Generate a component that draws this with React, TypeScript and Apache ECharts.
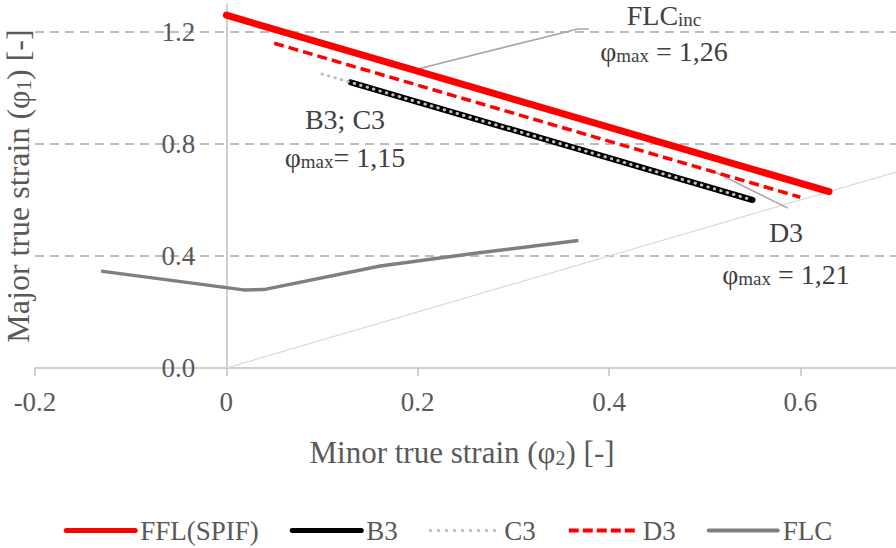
import React, { useEffect, useRef } from "react";
import * as echarts from "echarts";

const FONT = "'Liberation Serif', 'Times New Roman', serif";

const legendNames = ["FFL(SPIF)", "B3", "C3", "D3", "FLC"];
const fflData = [[0, 1.26], [0.63, 0.63]];
const b3Data = [[0.13, 1.02], [0.55, 0.6]];
const c3Data = [[0.1, 1.05], [0.55, 0.6]];
const d3Data = [[0.05, 1.16], [0.6, 0.61]];
const flcX = [-0.131, 0.018, 0.039, 0.161, 0.26, 0.368];
const flcY = [0.346, 0.279, 0.28, 0.364, 0.41, 0.455];
const diagData = [[0, 0], [0.7, 0.7]];
const flcIncLeader = [[0.2, 1.068], [0.3675, 1.211], [0.379, 1.211]];
const d3Leader = [[0.504, 0.711], [0.587, 0.571]];
const xTicks = [-0.2, 0, 0.2, 0.4, 0.6];
const yTicks = [0, 0.4, 0.8, 1.2];
const X_MIN = -0.2;
const X_MAX = 0.7;

const annColor = "#404040";
const labelColor = "#595959";

const GRID_LEFT = 35;
const GRID_WIDTH = 896 - GRID_LEFT;

function richText(text: string, x: number, y: number, size: number, subSize: number, color: string, rotation = 0) {
  return {
    type: "text",
    x,
    y,
    rotation,
    style: {
      text,
      align: "center",
      verticalAlign: "middle",
      fill: color,
      rich: {
        m: { fontFamily: FONT, fontSize: size, fill: color, lineHeight: size },
        s: { fontFamily: FONT, fontSize: subSize, fill: color, lineHeight: 8, verticalAlign: "bottom" },
      },
    },
  };
}

export default function App() {
  const ref = useRef<HTMLDivElement>(null);
  useEffect(() => {
    document.body.style.margin = "0";
    const chart = echarts.init(ref.current!, null, { renderer: "svg" });
    const flcData = flcX.map((x, i) => [x, flcY[i]]);
    // move the y axis to x = 0
    const yOffset = -((0 - X_MIN) / (X_MAX - X_MIN)) * GRID_WIDTH;
    const legendStyles: Record<string, any> = {
      "FFL(SPIF)": { width: 5, cap: "round" },
      B3: { width: 5, cap: "round" },
      C3: { width: 3, type: [0.5, 7.5], cap: "round" },
      D3: { width: 4, type: [10, 4] },
      FLC: { width: 4, cap: "round" },
    };
    chart.setOption({
      animation: false,
      grid: { left: GRID_LEFT, right: 0, top: 4, bottom: 180, containLabel: false, outerBoundsMode: "none" },
      legend: {
        data: legendNames.map((name) => ({ name, lineStyle: legendStyles[name] })),
        left: "center",
        top: 512,
        itemWidth: 69,
        itemHeight: 8,
        itemGap: 31,
        itemStyle: { opacity: 0 },
        textStyle: { fontFamily: FONT, fontSize: 27, color: labelColor },
      },
      xAxis: {
        type: "value",
        min: X_MIN,
        max: X_MAX,
        interval: 0.2,
        axisLine: { show: true, onZero: true, lineStyle: { color: "#bfbfbf", width: 1.5 } },
        axisTick: { show: true, length: 8, customValues: xTicks, lineStyle: { color: "#bfbfbf", width: 1.5 } },
        axisLabel: {
          customValues: xTicks,
          margin: 20,
          fontFamily: FONT,
          fontSize: 27,
          color: labelColor,
          formatter: (v: number) => (Math.abs(v) < 1e-9 ? "0" : v.toFixed(1)),
        },
        splitLine: { show: false },
      },
      yAxis: {
        type: "value",
        min: 0,
        max: 1.3,
        interval: 0.4,
        position: "left",
        offset: yOffset,
        axisLine: { show: true, onZero: false, lineStyle: { color: "#bfbfbf", width: 1.5 } },
        axisTick: { show: false },
        axisLabel: {
          customValues: yTicks,
          margin: 31,
          fontFamily: FONT,
          fontSize: 27,
          color: labelColor,
          formatter: (v: number) => v.toFixed(1),
        },
        splitLine: {
          show: true,
          showMinLine: false,
          showMaxLine: false,
          lineStyle: { color: "#a6a6a6", width: 1.5, type: [9, 6] },
        },
      },
      series: [
        {
          name: "_diag",
          type: "line",
          data: diagData,
          symbol: "none",
          silent: true,
          lineStyle: { color: "#d9d9d9", width: 1.2 },
          z: 1,
        },
        {
          name: "_leader1",
          type: "line",
          data: flcIncLeader,
          symbol: "none",
          silent: true,
          lineStyle: { color: "#a6a6a6", width: 1.5 },
          z: 2,
        },
        {
          name: "_leader2",
          type: "line",
          data: d3Leader,
          symbol: "none",
          silent: true,
          lineStyle: { color: "#a6a6a6", width: 1.5 },
          z: 2,
        },
        {
          name: "FLC",
          type: "line",
          data: flcData,
          symbol: "none",
          lineStyle: { color: "#7f7f7f", width: 3.5 },
          itemStyle: { color: "#7f7f7f" },
          z: 3,
        },
        {
          name: "D3",
          type: "line",
          data: d3Data,
          symbol: "none",
          lineStyle: { color: "#ff0000", width: 3.5, type: [10, 5] },
          itemStyle: { color: "#ff0000" },
          z: 3,
        },
        {
          name: "FFL(SPIF)",
          type: "line",
          data: fflData,
          symbol: "none",
          lineStyle: { color: "#ff0000", width: 7, cap: "round" },
          itemStyle: { color: "#ff0000" },
          z: 4,
        },
        {
          name: "B3",
          type: "line",
          data: b3Data,
          symbol: "none",
          lineStyle: { color: "#000000", width: 6, cap: "round" },
          itemStyle: { color: "#000000" },
          z: 4,
        },
        {
          name: "C3",
          type: "line",
          data: c3Data,
          symbol: "none",
          lineStyle: { color: "#bfbfbf", width: 3, type: [0.5, 6.2], cap: "round" },
          itemStyle: { color: "#bfbfbf" },
          z: 5,
        },
      ],
      graphic: [
        richText("{m|Major true strain (φ}{s|1}{m|) [-]}", 18, 186, 32, 21, labelColor, Math.PI / 2),
        richText("{m|Minor true strain (φ}{s|2}{m|) [-]}", 462, 452, 31, 20, labelColor),
        richText("{m|FLC}{s|inc}", 664, 15, 28, 19, annColor),
        richText("{m|φ}{s|max}{m| = 1,26}", 664, 51, 28, 19, annColor),
        richText("{m|B3; C3}", 345, 119, 28, 19, annColor),
        richText("{m|φ}{s|max}{m|= 1,15}", 345, 157, 28, 19, annColor),
        richText("{m|D3}", 786, 232, 28, 19, annColor),
        richText("{m|φ}{s|max}{m| = 1,21}", 786, 274, 28, 19, annColor),
      ],
    });
    return () => chart.dispose();
  }, []);
  return <div ref={ref} style={{ width: 896, height: 548 }} />;
}
